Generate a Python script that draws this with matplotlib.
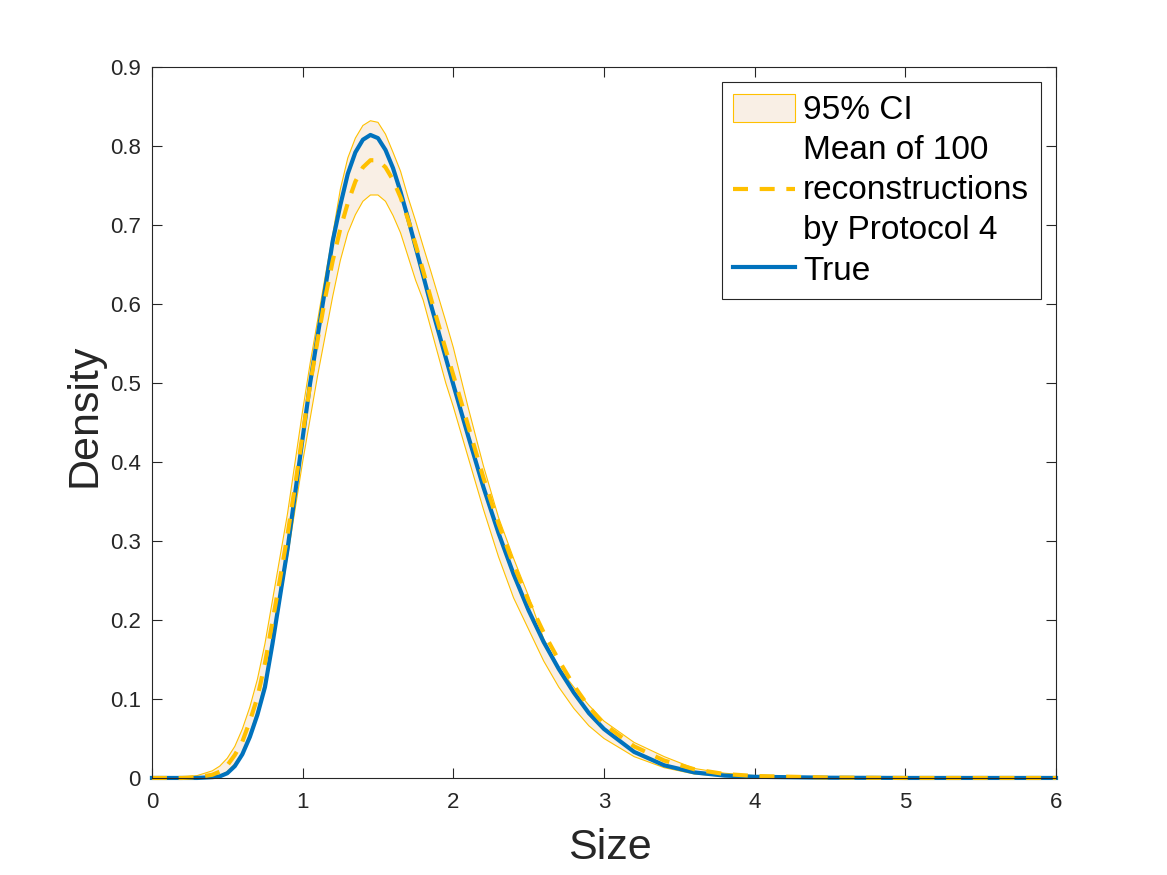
import numpy as np
import matplotlib
matplotlib.use('Agg')
import matplotlib.pyplot as plt

# valores
tamanho = [0, 0.2, 0.3, 0.4, 0.45, 0.5, 0.55, 0.6, 0.65, 0.7, 0.75, 0.8, 0.85,
           0.9, 0.95, 1.0, 1.05, 1.1, 1.15, 1.2, 1.25, 1.3, 1.35, 1.4, 1.45,
           1.5, 1.55, 1.6, 1.65, 1.7, 1.75, 1.8, 1.85, 1.9, 1.95, 2.0, 2.1,
           2.2, 2.3, 2.4, 2.5, 2.6, 2.7, 2.8, 2.9, 3.0, 3.2, 3.4, 3.6, 3.8,
           4.0, 4.5, 5.0, 6.0]

densidade_real = [0, 0, 0, 0.001, 0.002, 0.006, 0.015, 0.03, 0.052, 0.08,
                  0.115, 0.17, 0.23, 0.29, 0.36, 0.43, 0.50, 0.56, 0.62,
                  0.68, 0.725, 0.765, 0.792, 0.808, 0.814, 0.810, 0.795,
                  0.772, 0.742, 0.708, 0.672, 0.636, 0.600, 0.566, 0.532,
                  0.498, 0.432, 0.368, 0.31, 0.258, 0.212, 0.172, 0.138,
                  0.108, 0.082, 0.062, 0.033, 0.016, 0.007, 0.003, 0.0015,
                  0.0003, 0, 0]

densidade_media = [0, 0, 0.001, 0.004, 0.008, 0.016, 0.029, 0.046, 0.072,
                   0.102, 0.145, 0.198, 0.252, 0.308, 0.37, 0.435, 0.498,
                   0.555, 0.608, 0.655, 0.695, 0.728, 0.755, 0.773, 0.782,
                   0.782, 0.773, 0.757, 0.735, 0.707, 0.675, 0.642, 0.608,
                   0.575, 0.542, 0.51, 0.445, 0.38, 0.322, 0.27, 0.224,
                   0.184, 0.149, 0.117, 0.09, 0.068, 0.04, 0.022, 0.011,
                   0.005, 0.0025, 0.0005, 0, 0]

ic_superior = [0, 0.001, 0.003, 0.009, 0.015, 0.025, 0.04, 0.062, 0.09,
               0.125, 0.17, 0.225, 0.28, 0.335, 0.4, 0.465, 0.525, 0.58,
               0.635, 0.688, 0.745, 0.785, 0.81, 0.826, 0.832, 0.83, 0.815,
               0.792, 0.768, 0.735, 0.705, 0.673, 0.642, 0.61, 0.578, 0.545,
               0.468, 0.395, 0.33, 0.278, 0.23, 0.176, 0.14, 0.115, 0.092,
               0.072, 0.045, 0.027, 0.012, 0.006, 0.003, 0.001, 0, 0]

ic_inferior = [0, 0, 0, 0.001, 0.003, 0.008, 0.018, 0.032, 0.056, 0.085,
               0.122, 0.172, 0.225, 0.28, 0.34, 0.40, 0.455, 0.51, 0.56,
               0.61, 0.655, 0.69, 0.713, 0.73, 0.738, 0.738, 0.73, 0.712,
               0.69, 0.66, 0.63, 0.605, 0.57, 0.535, 0.5, 0.47, 0.405, 0.34,
               0.28, 0.228, 0.188, 0.148, 0.115, 0.088, 0.066, 0.05, 0.027,
               0.013, 0.005, 0.002, 0.001, 0, 0, 0]

azul = '#0072BD'
amarelo = '#FFC000'
bege = '#F9EFE5'
cinza = '#262626'

plt.rcParams['font.family'] = ['Liberation Sans', 'DejaVu Sans']

fig = plt.figure(figsize=(11.67, 8.75), dpi=100)
ax = fig.add_axes([0.1302, 0.1109, 0.7747, 0.8125])

faixa = ax.fill_between(tamanho, ic_inferior, ic_superior, facecolor=bege,
                        edgecolor='none', label='95% CI')
faixa.set_clip_on(False)
ax.plot(tamanho, ic_superior, color=amarelo, lw=0.8, clip_on=False)
ax.plot(tamanho, ic_inferior, color=amarelo, lw=0.8, clip_on=False)
linha_real, = ax.plot(tamanho, densidade_real, color=azul, lw=3,
                      label='True', clip_on=False)
linha_media, = ax.plot(tamanho, densidade_media, color=amarelo, lw=3,
                       dashes=(3.6, 2.8),
                       label='Mean of 100\nreconstructions\nby Protocol 4',
                       clip_on=False)

ax.set_xlim(0, 6)
ax.set_ylim(0, 0.9)
ax.set_xticks(range(0, 7))
ax.set_yticks(np.arange(0, 0.91, 0.1))
ax.set_yticklabels(['0', '0.1', '0.2', '0.3', '0.4', '0.5', '0.6', '0.7',
                    '0.8', '0.9'])
ax.tick_params(direction='in', length=7, width=0.8, colors=cinza,
               labelsize=16, top=True, right=True)
ax.tick_params(axis='x', pad=10)
ax.tick_params(axis='y', pad=8)
for lado in ax.spines.values():
    lado.set_color(cinza)
    lado.set_linewidth(0.8)

ax.set_xlabel('Size', fontsize=31, color=cinza)
ax.set_ylabel('Density', fontsize=31, color=cinza)
ax.xaxis.set_label_coords(0.5066, -0.070)
ax.yaxis.set_label_coords(-0.053, 0.5105)

legenda_patch = matplotlib.patches.Patch(facecolor=bege, edgecolor=amarelo,
                                         lw=0.8, label='95% CI')
leg = ax.legend(handles=[legenda_patch, linha_media, linha_real],
                loc='upper right', fontsize=24, frameon=True, fancybox=False,
                framealpha=1, edgecolor=cinza, handlelength=1.85,
                handleheight=0.93, handletextpad=0.25, borderaxespad=0.45,
                borderpad=0.35, labelspacing=0.25)
leg.get_frame().set_linewidth(0.8)
for texto in leg.get_texts():
    texto.set_linespacing(1.38)

fig.savefig('out.png', dpi=100)
